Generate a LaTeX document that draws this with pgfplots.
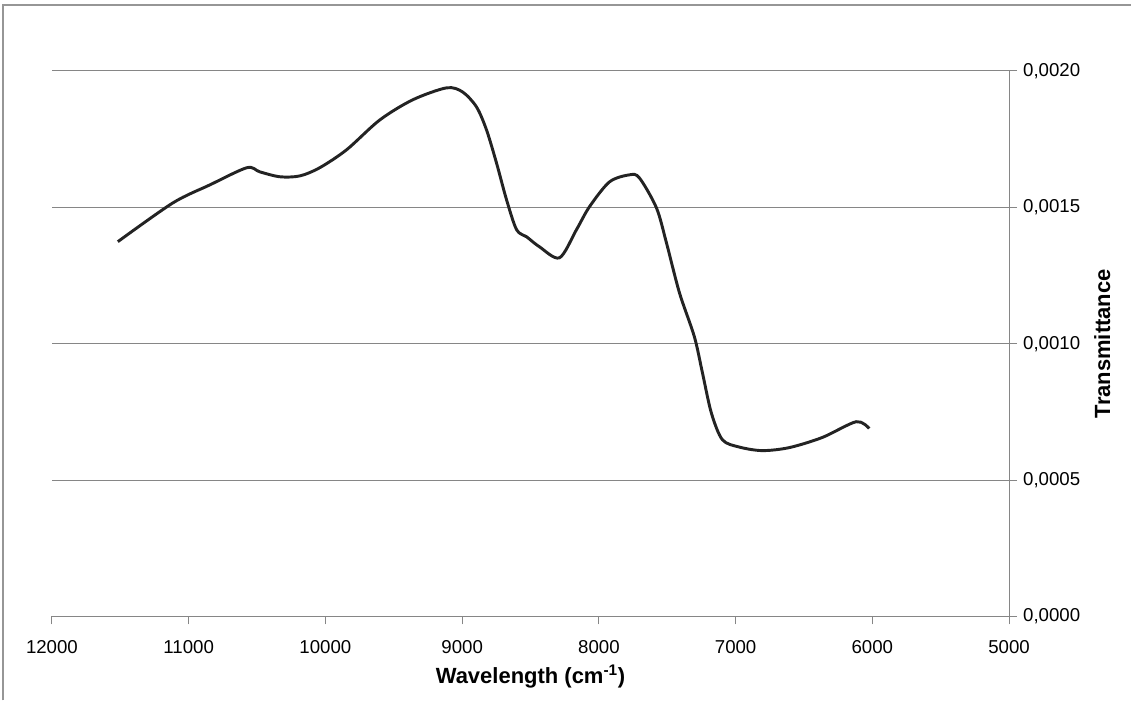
\documentclass[border=0pt]{standalone}
\usepackage{fontspec}
\setmainfont{Liberation Sans}
\usepackage{pgfplots}
\pgfplotsset{compat=1.18}

\definecolor{gridgray}{RGB}{134,134,134}
\definecolor{framegray}{RGB}{150,150,150}
\definecolor{curve}{RGB}{35,35,35}

\begin{document}
\begin{tikzpicture}
% page frame (only top and left edges show, as in the reference)
\path (-39pt,-63pt) rectangle (810pt,462.75pt);
\draw[framegray, line width=1.5pt] (-36.75pt,-63pt) -- (-36.75pt,459pt) -- (810pt,459pt);
\begin{axis}[
    at={(0,0)}, anchor=south west,
    scale only axis, width=718.5pt, height=409.5pt,
    x dir=reverse,
    xmin=5000, xmax=12000, ymin=0, ymax=0.002,
    xtick={5000,6000,...,12000},
    ytick={0,0.0005,0.001,0.0015,0.002},
    axis x line*=bottom, axis y line*=right,
    axis line style={gridgray, line width=0.8pt, -},
    tick style={gridgray, line width=0.8pt},
    tick align=outside, major tick length=6pt,
    ymajorgrids, grid style={gridgray, line width=0.8pt},
    scaled y ticks=false, scaled x ticks=false,
    x tick label style={/pgf/number format/1000 sep={}, /pgf/number format/assume math mode=true, anchor=center, yshift=-17pt},
    y tick label style={/pgf/number format/.cd, fixed, fixed zerofill, precision=4, use comma, assume math mode=true, /tikz/.cd, xshift=1pt},
    tick label style={font=\fontsize{14}{16}\selectfont},
    label style={font=\bfseries\fontsize{16.5}{19}\selectfont},
    xlabel={Wavelength (cm\textsuperscript{-1})},
    xlabel style={at={(rel axis cs:0.5,0)}, anchor=center, yshift=-45pt},
    ylabel={Transmittance},
    ylabel style={at={(rel axis cs:1,0.5)}, anchor=center, yshift=-70pt},
    clip=false,
]
\addplot[curve, line width=2.2pt, smooth, tension=0.5] coordinates {
(11518,0.001374) (11116,0.001516) (10846,0.001582) (10575,0.001645)
(10480,0.001630) (10334,0.001612) (10188,0.001615) (10042,0.001645)
(9845,0.001711) (9603,0.001820) (9362,0.001894) (9114,0.001938)
(8997,0.001923) (8895,0.001868) (8822,0.001784) (8749,0.001663)
(8675,0.001527) (8602,0.001418) (8529,0.001392) (8434,0.001355)
(8288,0.001315) (8164,0.001418) (8069,0.001502) (7923,0.001593)
(7777,0.001619) (7704,0.001608) (7579,0.001498) (7506,0.001370)
(7411,0.001187) (7302,0.001026) (7243,0.000894) (7178,0.000747)
(7097,0.000648) (6973,0.000621) (6805,0.000608) (6608,0.000619)
(6367,0.000656) (6118,0.000714) (6023,0.000689)
};
\end{axis}
\end{tikzpicture}
\end{document}
